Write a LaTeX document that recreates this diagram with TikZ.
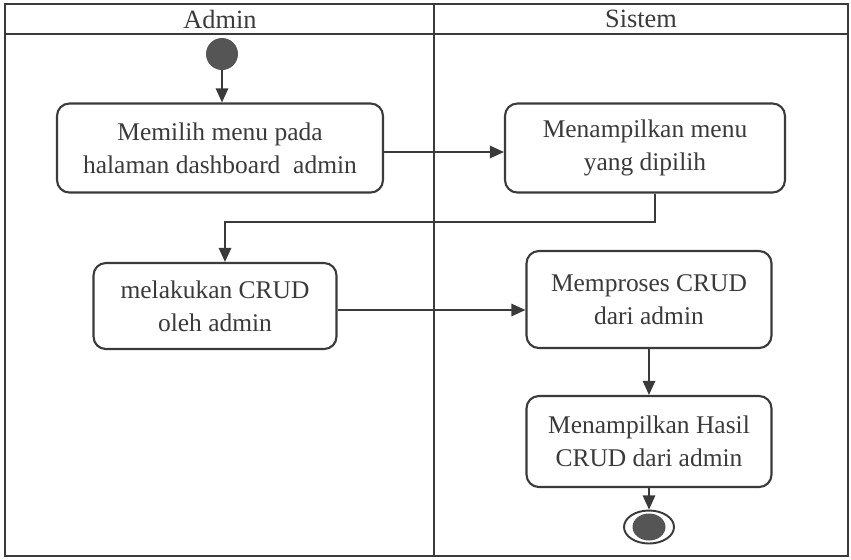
\documentclass[tikz,border=0pt]{standalone}
\usepackage{fontspec}
\setmainfont{Liberation Serif}
\usetikzlibrary{
    arrows.meta,
    positioning,
    shapes.geometric
}
\definecolor{umlgray}{RGB}{58,58,58}
\definecolor{dotgray}{RGB}{85,85,85}
\tikzset{
  act/.style   = {draw=umlgray, rounded corners=7pt, line width=1.2pt,
                  align=center, text=umlgray, inner sep=0pt,
                  font=\fontsize{14.5}{19}\selectfont},
  arr/.style   = {-{Triangle[length=8pt,width=7pt]}, line width=1.1pt, umlgray},
  lane/.style  = {draw=umlgray, line width=1pt},
  lanelbl/.style = {font=\fontsize{15}{18}\selectfont, text=umlgray}
}

\begin{document}
\begin{tikzpicture}[x=0.02cm, y=-0.02cm]

\useasboundingbox (0,0) rectangle (851,559);

%% Swimlanes
\draw[lane] (5,4) rectangle (848,556);
\draw[lane] (5,34) -- (848,34);
\draw[lane] (434,4) -- (434,556);
\node[lanelbl] (admin) at (220,19) {Admin};
\node[lanelbl] (sistem) at (641,19) {Sistem};

%% Start / end
\node[circle, fill=dotgray, minimum size=0.64cm, inner sep=0pt] (start) at (222,54) {};
\node[ellipse, draw=umlgray, line width=1.1pt, minimum width=1.0cm,
      minimum height=0.66cm, inner sep=0pt] (stop) at (649,527) {};
\node[ellipse, fill=dotgray, minimum width=0.66cm, minimum height=0.54cm,
      inner sep=0pt] (stopdot) at (649,527) {};

%% Activities
\node[act, minimum width=6.52cm, minimum height=1.78cm] (pilih) at (220,148)
  {Memilih menu pada\\halaman dashboard\ \ admin};
\node[act, minimum width=5.6cm, minimum height=1.78cm] (tampil) at (645,148)
  {Menampilkan menu\\yang dipilih};
\node[act, minimum width=4.86cm, minimum height=1.72cm] (crud) at (215,306)
  {melakukan CRUD\\oleh admin};
\node[act, minimum width=4.9cm, minimum height=1.94cm] (proses) at (649,299.5)
  {Memproses CRUD\\dari admin};
\node[act, minimum width=4.9cm, minimum height=1.82cm] (hasil) at (649,441.5)
  {Menampilkan Hasil\\CRUD dari admin};

%% Flow
\draw[arr] (start) -- (start |- pilih.north);
\draw[arr] (pilih.east |- 0,152) -- (tampil.west |- 0,152);
\draw[arr] ([xshift=0.2cm]tampil.south) |- (225,222) -- (225,222 |- crud.north);
\draw[arr] (crud.east |- 0,310) -- (proses.west |- 0,310);
\draw[arr] (proses.south) -- (hasil.north);
\draw[arr] (hasil.south) -- (stop.north);

\end{tikzpicture}
\end{document}
